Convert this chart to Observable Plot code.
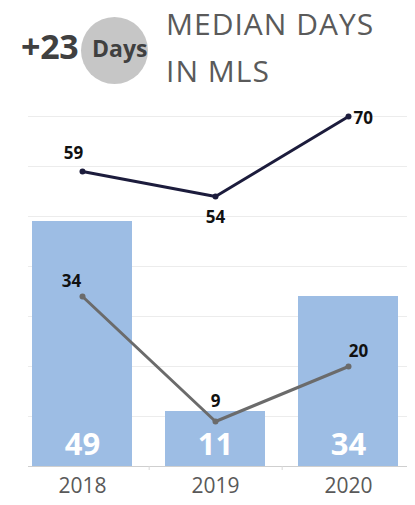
<!DOCTYPE html>
<html>
<head>
<meta charset="utf-8">
<script src="https://cdn.jsdelivr.net/npm/d3@7"></script>
<script src="https://cdn.jsdelivr.net/npm/@observablehq/plot@0.6"></script>
<style>
  body { margin: 0; background: #fff; font-family: "Open Sans", sans-serif; }
  #wrap { position: relative; width: 415px; height: 505px; overflow: hidden; }
  #header { position: absolute; left: 0; top: 0; width: 415px; height: 100px; }
  .big { position: absolute; left: 21px; top: 26px; font-size: 34px; font-weight: 700; color: #404040; letter-spacing: -0.3px; line-height: 40px; }
  .circle { position: absolute; left: 81px; top: 17px; width: 67px; height: 67px; border-radius: 50%; background: #c6c6c6; }
  .days { position: absolute; left: 92px; top: 34px; font-size: 23px; font-weight: 700; color: #404040; line-height: 28px; }
  .title { position: absolute; left: 166px; top: 0px; font-size: 30px; color: #5a5a5a; line-height: 47px; font-weight: 400; letter-spacing: 1px; }
  #chart { position: absolute; left: 0; top: 100px; }
</style>
</head>
<body>
<div id="wrap">
  <div id="header">
    <div class="circle"></div>
    <div class="big">+23</div>
    <div class="days">Days</div>
    <div class="title">MEDIAN DAYS<br>IN MLS</div>
  </div>
  <div id="chart"></div>
</div>
<script>
const years = ["2018", "2019", "2020"];
const barValues = [49, 11, 34];
const darkLine = [59, 54, 70];
const greyLine = [34, 9, 20];
const gridValues = [10, 20, 30, 40, 50, 60, 70];

const bars = years.map((y, i) => ({year: y, value: barValues[i]}));
const dark = years.map((y, i) => ({year: y, value: darkLine[i], i}));
const grey = years.map((y, i) => ({year: y, value: greyLine[i], i}));

const W = 415, H = 405;
const mL = 15, mR = 0;
const step = (W - mL - mR) / 3;

const labelFont = {fontSize: 17, fontWeight: 700, fill: "#111", fontFamily: "Open Sans, sans-serif"};
const lbl = d => String(d.value);

const chart = Plot.plot({
  width: W,
  height: H,
  marginLeft: mL,
  marginRight: mR,
  marginTop: 16,
  marginBottom: 39,
  style: {fontFamily: "Open Sans, sans-serif", background: "transparent"},
  x: {domain: years, paddingInner: 0.25, paddingOuter: 0.125, axis: null},
  y: {domain: [0, 70], axis: null},
  marks: [
    Plot.ruleY(gridValues, {stroke: "#ececec", strokeWidth: 1, insetLeft: 13, insetRight: 8}),
    Plot.barY(bars, {x: "year", y: "value", fill: "#9dbde4"}),
    Plot.ruleY([0], {stroke: "#cfcfcf", strokeWidth: 1.2, insetLeft: 13, insetRight: 8}),
    Plot.ruleX(years.slice(0, 2), {x: d => d, dx: step / 2, y1: 0, y2: -0.8, stroke: "#d8d8d8"}),
    Plot.text(bars, {x: "year", y: 0, text: lbl, dy: -21, fill: "#fff", fontSize: 31, fontWeight: 700}),
    Plot.line(dark, {x: "year", y: "value", stroke: "#1c1c3c", strokeWidth: 3}),
    Plot.dot(dark, {x: "year", y: "value", r: 3, fill: "#1c1c3c"}),
    Plot.line(grey, {x: "year", y: "value", stroke: "#6b6b6b", strokeWidth: 3}),
    Plot.dot(grey, {x: "year", y: "value", r: 3, fill: "#6b6b6b"}),
    // dark line labels
    Plot.text(dark.filter(d => d.i === 0), {x: "year", y: "value", text: lbl, dx: -9, dy: -18, ...labelFont}),
    Plot.text(dark.filter(d => d.i === 1), {x: "year", y: "value", text: lbl, dx: 0, dy: 21, ...labelFont}),
    Plot.text(dark.filter(d => d.i === 2), {x: "year", y: "value", text: lbl, dx: 5, dy: 2, textAnchor: "start", ...labelFont}),
    // grey line labels
    Plot.text(grey.filter(d => d.i === 0), {x: "year", y: "value", text: lbl, dx: -11, dy: -15, ...labelFont}),
    Plot.text(grey.filter(d => d.i === 1), {x: "year", y: "value", text: lbl, dx: 0, dy: -20, ...labelFont}),
    Plot.text(grey.filter(d => d.i === 2), {x: "year", y: "value", text: lbl, dx: 10, dy: -15, ...labelFont}),
    // year labels
    Plot.text(years, {x: d => d, y: 0, text: d => d, dy: 20, fontSize: 21, fill: "#595959"})
  ]
});
document.getElementById("chart").appendChild(chart);
</script>
</body>
</html>
